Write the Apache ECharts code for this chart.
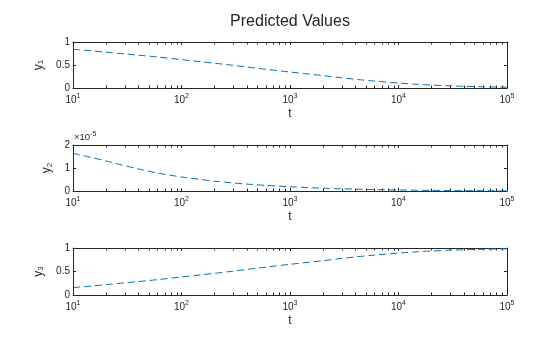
<!DOCTYPE html>
<html><head><meta charset="utf-8">
<script src="https://cdn.jsdelivr.net/npm/echarts@6/dist/echarts.min.js"></script>
<style>html,body{margin:0;padding:0;background:#fff}#c{width:560px;height:337px}</style>
</head><body><div id="c"></div>
<script>
const titleText = 'Predicted Values';
const tVals = [10, 15, 20, 30, 40, 60, 100, 150, 200, 300, 400, 600, 1000, 1500, 2000, 3000, 4000, 6000, 10000, 15000, 20000, 30000, 40000, 60000, 100000];
const y1Vals = [0.842, 0.808, 0.779, 0.741, 0.714, 0.674, 0.617, 0.572, 0.540, 0.492, 0.456, 0.407, 0.347, 0.302, 0.270, 0.222, 0.190, 0.150, 0.108, 0.080, 0.064, 0.047, 0.038, 0.027, 0.017];
const y2Vals = [1.64e-5, 1.45e-5, 1.31e-5, 1.10e-5, 9.6e-6, 7.8e-6, 6.1e-6, 5.0e-6, 4.3e-6, 3.5e-6, 3.0e-6, 2.45e-6, 1.85e-6, 1.45e-6, 1.22e-6, 9.6e-7, 8.0e-7, 6.2e-7, 4.4e-7, 3.3e-7, 2.7e-7, 2.0e-7, 1.6e-7, 1.2e-7, 7.5e-8];
const y3Vals = [0.158, 0.192, 0.221, 0.259, 0.286, 0.326, 0.383, 0.428, 0.460, 0.508, 0.544, 0.593, 0.653, 0.698, 0.730, 0.778, 0.810, 0.850, 0.892, 0.920, 0.936, 0.953, 0.962, 0.973, 0.983];
const xTickExps = [1, 2, 3, 4, 5];
const yNames = ['1', '2', '3'];
const yRanges = [[0, 1, 0.5], [0, 2e-5, 1e-5], [0, 1, 0.5]];
const xLabel = 't';

const FONT = 'Liberation Sans, Arial, Helvetica, sans-serif';
const INK = '#262626';
const LINE = '#0072BD';
const grids = [
  {left: 73, right: 53, top: 42, height: 46},
  {left: 73, right: 53, top: 145, height: 46},
  {left: 73, right: 53, top: 248, height: 47}
];
const yNameGaps = [23, 12, 23];
const minorTicks = [];
xTickExps.slice(0, -1).forEach(e => { for (let k = 2; k <= 9; k++) minorTicks.push([k * Math.pow(10, e)]); });
const ySeries = [y1Vals, y2Vals, y3Vals];

const xAxes = [], yAxes = [], series = [];
grids.forEach((g, i) => {
  const [ymin, ymax, yint] = yRanges[i];
  xAxes.push({
    type: 'log', logBase: 10, gridIndex: i, min: 10, max: 100000, position: 'bottom',
    name: xLabel, nameLocation: 'middle', nameGap: 20,
    nameTextStyle: {fontFamily: FONT, fontSize: 12, color: INK},
    axisLine: {show: true, onZero: false, lineStyle: {color: INK, width: 1}},
    axisTick: {show: true, inside: true, length: 3, lineStyle: {color: INK}},
    splitLine: {show: false}, minorTick: {show: false},
    axisLabel: {
      margin: 5, color: INK, fontFamily: FONT,
      formatter: v => '{b|10}{s|' + Math.round(Math.log10(v)) + '}',
      rich: {b: {fontSize: 10, fontFamily: FONT, color: INK}, s: {fontSize: 7, fontFamily: FONT, color: INK, padding: [0, 0, 7, 0]}}
    }
  });
  xAxes.push({
    type: 'log', logBase: 10, gridIndex: i, min: 10, max: 100000, position: 'top',
    axisLine: {show: true, onZero: false, lineStyle: {color: INK, width: 1}},
    axisTick: {show: true, inside: true, length: 3, lineStyle: {color: INK}},
    axisLabel: {show: false}, splitLine: {show: false}
  });
  yAxes.push({
    type: 'value', gridIndex: i, min: ymin, max: ymax, interval: yint, position: 'left',
    name: '{b|y}{s|' + yNames[i] + '}', nameLocation: 'middle', nameGap: yNameGaps[i], nameRotate: 90,
    nameTextStyle: {rich: {b: {fontSize: 12, fontFamily: FONT, color: INK}, s: {fontSize: 8, fontFamily: FONT, color: INK, padding: [5, 0, 0, 0]}}},
    axisLine: {show: true, onZero: false, lineStyle: {color: INK, width: 1}},
    axisTick: {show: true, inside: true, length: 3, lineStyle: {color: INK}},
    splitLine: {show: false},
    axisLabel: {
      margin: 3, color: INK, fontFamily: FONT, fontSize: 10,
      formatter: v => i === 1 ? String(Math.round(v / 1e-5)) : String(v)
    }
  });
  yAxes.push({
    type: 'value', gridIndex: i, min: ymin, max: ymax, interval: yint, position: 'right',
    axisLine: {show: true, onZero: false, lineStyle: {color: INK, width: 1}},
    axisTick: {show: true, inside: true, length: 3, lineStyle: {color: INK}},
    axisLabel: {show: false}, splitLine: {show: false}
  });
  series.push({
    type: 'line', xAxisIndex: 2 * i, yAxisIndex: 2 * i,
    data: tVals.map((t, k) => [t, ySeries[i][k]]),
    showSymbol: false, smooth: 0.3, animation: false,
    lineStyle: {color: LINE, width: 1, type: [7, 4]}
  });
  series.push({
    type: 'custom', xAxisIndex: 2 * i, yAxisIndex: 2 * i, silent: true, animation: false,
    data: minorTicks, encode: {x: 0},
    renderItem: (params, api) => {
      const x = api.value(0);
      const p0 = api.coord([x, ymin]);
      const p1 = api.coord([x, ymax]);
      const px = Math.round(p0[0]) + 0.5;
      return {type: 'group', children: [
        {type: 'line', shape: {x1: px, y1: p0[1], x2: px, y2: p0[1] - 2.5}, style: {stroke: INK, lineWidth: 1}},
        {type: 'line', shape: {x1: px, y1: p1[1], x2: px, y2: p1[1] + 2.5}, style: {stroke: INK, lineWidth: 1}}
      ]};
    }
  });
});

const chart = echarts.init(document.getElementById('c'), null, {renderer: 'canvas'});
chart.setOption({
  animation: false,
  backgroundColor: '#fff',
  title: {text: titleText, left: 285, top: 9, textAlign: 'center',
    textStyle: {fontFamily: FONT, fontSize: 16, fontWeight: 'normal', color: INK}},
  grid: grids,
  xAxis: xAxes,
  yAxis: yAxes,
  series: series,
  graphic: [{
    type: 'text', left: 74, top: 131,
    style: {text: '{a|\u00d710}{b|-5}', rich: {a: {fontSize: 9.5, fontFamily: FONT, fill: INK}, b: {fontSize: 7, fontFamily: FONT, fill: INK, padding: [0, 0, 5, 0]}}}
  }]
});
</script></body></html>
